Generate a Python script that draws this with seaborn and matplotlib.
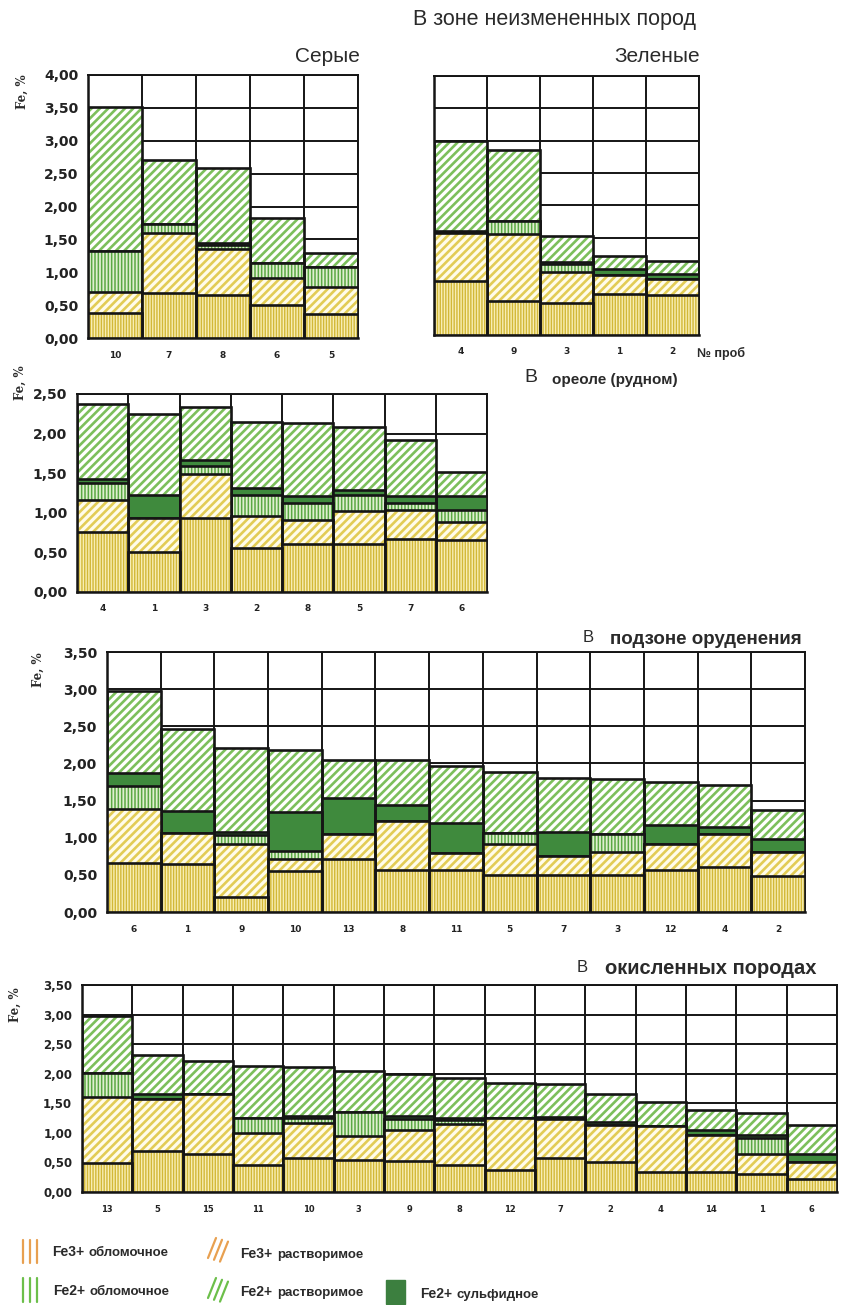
import numpy as np
import matplotlib
matplotlib.use("Agg")
import matplotlib.pyplot as plt
from matplotlib.patches import Rectangle
from matplotlib.lines import Line2D
import seaborn as sns

sns.set_style("white")
plt.rcParams["font.family"] = ["DejaVu Sans"]
plt.rcParams["hatch.linewidth"] = 1.1

W, H = 841, 1305

# ---------------- data: Fe forms by sample, % (layer thickness) ----------------
# layer order (bottom -> top): Fe3+ обломочное, Fe3+ растворимое,
# Fe2+ обломочное, Fe2+ сульфидное, Fe2+ растворимое

grey_samples = ["10", "7", "8", "6", "5"]
grey_fe3_obl = [0.38, 0.68, 0.65, 0.50, 0.36]
grey_fe3_sol = [0.32, 0.91, 0.70, 0.42, 0.42]
grey_fe2_obl = [0.62, 0.14, 0.07, 0.22, 0.30]
grey_fe2_sulf = [0.00, 0.00, 0.03, 0.00, 0.00]
grey_fe2_sol = [2.20, 0.97, 1.14, 0.69, 0.22]

green_samples = ["4", "9", "3", "1", "2"]
green_fe3_obl = [0.83, 0.52, 0.50, 0.64, 0.62]
green_fe3_sol = [0.74, 1.04, 0.47, 0.29, 0.25]
green_fe2_obl = [0.00, 0.20, 0.13, 0.00, 0.00]
green_fe2_sulf = [0.03, 0.00, 0.02, 0.09, 0.07]
green_fe2_sol = [1.40, 1.10, 0.41, 0.20, 0.20]

halo_samples = ["4", "1", "3", "2", "8", "5", "7", "6"]
halo_fe3_obl = [0.76, 0.505, 0.93, 0.555, 0.60, 0.60, 0.67, 0.66]
halo_fe3_sol = [0.405, 0.425, 0.56, 0.40, 0.305, 0.42, 0.37, 0.23]
halo_fe2_obl = [0.215, 0.00, 0.10, 0.275, 0.215, 0.21, 0.08, 0.15]
halo_fe2_sulf = [0.05, 0.30, 0.08, 0.08, 0.09, 0.06, 0.09, 0.17]
halo_fe2_sol = [0.94, 1.02, 0.66, 0.84, 0.93, 0.79, 0.71, 0.31]

ore_samples = ["6", "1", "9", "10", "13", "8", "11", "5", "7", "3", "12", "4", "2"]
ore_fe3_obl = [0.66, 0.65, 0.20, 0.55, 0.72, 0.56, 0.56, 0.50, 0.50, 0.50, 0.57, 0.61, 0.48]
ore_fe3_sol = [0.73, 0.41, 0.72, 0.17, 0.33, 0.67, 0.23, 0.42, 0.25, 0.31, 0.35, 0.44, 0.33]
ore_fe2_obl = [0.30, 0.00, 0.11, 0.10, 0.00, 0.00, 0.00, 0.14, 0.00, 0.24, 0.00, 0.00, 0.00]
ore_fe2_sulf = [0.18, 0.30, 0.05, 0.53, 0.48, 0.21, 0.41, 0.00, 0.33, 0.00, 0.25, 0.10, 0.17]
ore_fe2_sol = [1.10, 1.11, 1.13, 0.83, 0.51, 0.61, 0.76, 0.82, 0.73, 0.74, 0.58, 0.56, 0.39]

ox_samples = ["13", "5", "15", "11", "10", "3", "9", "8", "12", "7", "2", "4", "14", "1", "6"]
ox_fe3_obl = [0.495, 0.69, 0.64, 0.45, 0.57, 0.535, 0.52, 0.46, 0.37, 0.58, 0.51, 0.34, 0.33, 0.31, 0.22]
ox_fe3_sol = [1.105, 0.89, 1.01, 0.55, 0.60, 0.415, 0.52, 0.69, 0.88, 0.66, 0.63, 0.77, 0.64, 0.33, 0.28]
ox_fe2_obl = [0.42, 0.00, 0.00, 0.25, 0.08, 0.40, 0.20, 0.07, 0.00, 0.00, 0.00, 0.00, 0.00, 0.28, 0.00]
ox_fe2_sulf = [0.00, 0.07, 0.00, 0.00, 0.03, 0.00, 0.04, 0.03, 0.00, 0.03, 0.05, 0.00, 0.07, 0.05, 0.14]
ox_fe2_sol = [0.95, 0.67, 0.56, 0.88, 0.83, 0.69, 0.72, 0.68, 0.60, 0.56, 0.47, 0.42, 0.35, 0.37, 0.50]

legend_labels = [("Fe3+", "обломочное"), ("Fe3+", "растворимое"),
                 ("Fe2+", "обломочное"), ("Fe2+", "растворимое"),
                 ("Fe2+", "сульфидное")]

# ---------------- styles ----------------
STYLES = [
    dict(face="#f8eeb4", hatch="||||||", hcolor="#d2b838", hlw=1.0),  # Fe3+ обломочное
    dict(face="#fffcea", hatch="////", hcolor="#e2cc55", hlw=1.9),    # Fe3+ растворимое
    dict(face="#e0efd0", hatch="|||||", hcolor="#5aa843", hlw=1.1),   # Fe2+ обломочное
    dict(face="#3f8a3d", hatch=None, hcolor=None, hlw=1.0),           # Fe2+ сульфидное
    dict(face="#ffffff", hatch="////", hcolor="#7cbf5c", hlw=1.9),    # Fe2+ растворимое
]
EDGE = "#151515"

fig = plt.figure(figsize=(W / 100, H / 100), dpi=100)


def fx(x):
    return x / W


def fy(y):
    return 1 - y / H


def draw_panel(box, labels, layers, ymax, show_y=True, ytick_fs=10, xtick_fs=6.5):
    x0, y0, x1, y1 = box
    ax = fig.add_axes([fx(x0), fy(y1), (x1 - x0) / W, (y1 - y0) / H])
    tops = np.cumsum(np.array(layers, dtype=float), axis=0)
    n = len(labels)
    # cumulative bars drawn top layer first; lower layers painted over them
    for k in range(4, -1, -1):
        st = STYLES[k]
        z = 2 + (4 - k) * 2
        with plt.rc_context({"hatch.linewidth": st["hlw"]}):
            if st["hatch"]:
                sns.barplot(x=labels, y=tops[k], order=labels, ax=ax, width=1,
                            color=st["face"], saturation=1, hatch=st["hatch"],
                            edgecolor=st["hcolor"], linewidth=0, errorbar=None,
                            zorder=z)
            else:
                sns.barplot(x=labels, y=tops[k], order=labels, ax=ax, width=1,
                            color=st["face"], saturation=1, edgecolor=st["face"],
                            linewidth=0, errorbar=None, zorder=z)
        sns.barplot(x=labels, y=tops[k], order=labels, ax=ax, width=1,
                    fill=False, color=EDGE, linewidth=1.9, errorbar=None,
                    zorder=z + 1)
    ax.set_xlim(-0.5, n - 0.5)
    ax.set_ylim(0, ymax)
    ax.set_xlabel("")
    ax.set_ylabel("")
    yt = np.arange(0, ymax + 1e-9, 0.5)
    ax.set_yticks(yt)
    if show_y:
        ax.set_yticklabels([f"{v:.2f}".replace(".", ",") for v in yt],
                           fontsize=ytick_fs, fontweight="bold", color="#222")
        ax.tick_params(axis="y", length=4, width=1.3, color=EDGE, pad=3)
    else:
        ax.set_yticklabels([])
        ax.tick_params(axis="y", length=0)
    ax.set_xticks(np.arange(n))
    ax.set_xticklabels(labels, fontsize=xtick_fs, fontweight="bold", color="#222")
    ax.set_xticks(np.arange(-0.5, n, 1), minor=True)
    ax.tick_params(axis="x", which="major", length=0, pad=9)
    ax.tick_params(axis="x", which="minor", length=4, width=1.3, color=EDGE)
    ax.set_axisbelow(True)
    ax.yaxis.grid(True, color=EDGE, linewidth=1.4)
    ax.xaxis.grid(True, which="minor", color=EDGE, linewidth=1.4)
    ax.xaxis.grid(False, which="major")
    for s in ax.spines.values():
        s.set_visible(True)
        s.set_color(EDGE)
        s.set_linewidth(1.4)
    ax.spines["left"].set_linewidth(1.8)
    ax.spines["bottom"].set_linewidth(1.8)
    ax.patch.set_alpha(0)
    return ax


draw_panel((88, 75, 358, 338), grey_samples,
           [grey_fe3_obl, grey_fe3_sol, grey_fe2_obl, grey_fe2_sulf, grey_fe2_sol], 4.0)
draw_panel((434, 76, 699, 335), green_samples,
           [green_fe3_obl, green_fe3_sol, green_fe2_obl, green_fe2_sulf, green_fe2_sol],
           4.0, show_y=False)
draw_panel((77, 394, 487, 592), halo_samples,
           [halo_fe3_obl, halo_fe3_sol, halo_fe2_obl, halo_fe2_sulf, halo_fe2_sol], 2.5)
draw_panel((107, 652, 805, 912), ore_samples,
           [ore_fe3_obl, ore_fe3_sol, ore_fe2_obl, ore_fe2_sulf, ore_fe2_sol], 3.5)
draw_panel((82, 985, 837, 1192), ox_samples,
           [ox_fe3_obl, ox_fe3_sol, ox_fe2_obl, ox_fe2_sulf, ox_fe2_sol], 3.5,
           ytick_fs=8.5, xtick_fs=6)

# ---------------- overlay for titles and legend ----------------
lax = fig.add_axes([0, 0, 1, 1])
lax.set_xlim(0, W)
lax.set_ylim(H, 0)
lax.axis("off")

TF = ["Liberation Sans", "DejaVu Sans"]
TC = "#2a2a2a"

lax.text(413, 20, "В зоне неизмененных пород", fontsize=15.5, family=TF,
         color=TC, va="center", ha="left")
lax.text(360, 57, "Серые", fontsize=15, family=TF, color=TC, va="center", ha="right")
lax.text(700, 57, "Зеленые", fontsize=15, family=TF, color=TC, va="center", ha="right")
lax.text(697, 353, "№ проб", fontsize=9, family=TF, fontweight="bold",
         color=TC, va="center", ha="left")

lax.text(524, 378, "В", fontsize=14, family=TF, color=TC, va="center")
lax.text(552, 380, "ореоле (рудном)", fontsize=11, family=TF, fontweight="bold",
         color=TC, va="center")
lax.text(583, 638, "В", fontsize=12, family=TF, color=TC, va="center")
lax.text(610, 639, "подзоне оруденения", fontsize=13.5, family=TF, fontweight="bold",
         color=TC, va="center")
lax.text(577, 968, "В", fontsize=12, family=TF, color=TC, va="center")
lax.text(605, 969, "окисленных породах", fontsize=14.5, family=TF, fontweight="bold",
         color=TC, va="center")

# axis titles
for (x, y) in [(22, 92), (20, 383), (38, 670), (15, 1005)]:
    lax.text(x, y, "Fe, %", rotation=90, fontsize=8.5, family=["DejaVu Serif"],
             fontweight="bold", color=TC, ha="center", va="center")

# legend
ORANGE = "#e8a050"
LGREEN = "#6cbf4a"
for x in (23, 30, 37):
    lax.add_line(Line2D([x, x], [1240, 1263], color=ORANGE, lw=1.6))
    lax.add_line(Line2D([x, x], [1278, 1302], color=LGREEN, lw=1.6))
for dx in (0, 6, 12):
    lax.add_line(Line2D([208 + dx, 216 + dx], [1258 + dx * 0.3, 1238 + dx * 0.3],
                        color=ORANGE, lw=1.6))
    lax.add_line(Line2D([208 + dx, 216 + dx], [1298 + dx * 0.3, 1278 + dx * 0.3],
                        color=LGREEN, lw=1.6))
lax.add_patch(Rectangle((386, 1280), 19, 24, color="#3c7f3f"))

leg_pos = [(52, 1252), (240, 1254), (53, 1291), (240, 1292), (420, 1294)]
for (head, tail), (x, y) in zip(legend_labels, leg_pos):
    lax.text(x, y, head, fontsize=10, family=TF, fontweight="bold", color=TC, va="center")
    lax.text(x + 37, y + 1, tail, fontsize=9.5, family=TF, fontweight="bold",
             color=TC, va="center")

fig.savefig("out.png", dpi=100, facecolor="white")
